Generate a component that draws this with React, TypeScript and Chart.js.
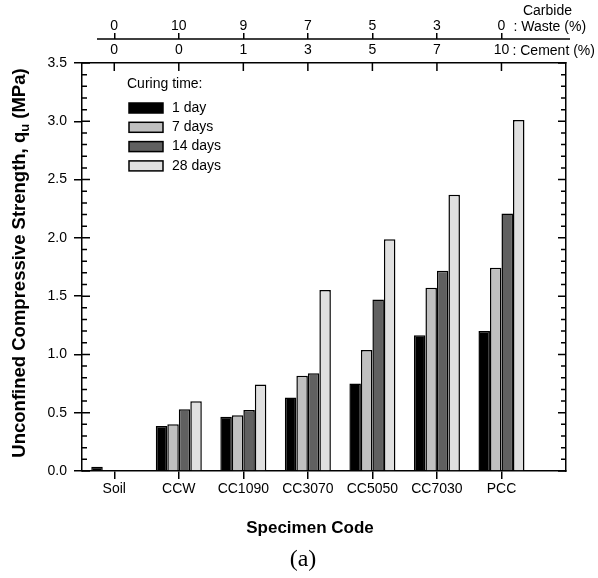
import React, { useEffect, useRef } from 'react';
import { Chart, registerables } from 'chart.js';

Chart.register(...registerables);

// ---------------- data ----------------
const categories = ['Soil', 'CCW', 'CC1090', 'CC3070', 'CC5050', 'CC7030', 'PCC'];
const wasteTicks = ['0', '10', '9', '7', '5', '3', '0'];
const cementTicks = ['0', '0', '1', '3', '5', '7', '10'];
const seriesNames = ['1 day', '7 days', '14 days', '28 days'];
const day1 = [0.037, 0.385, 0.465, 0.63, 0.75, 1.165, 1.2];
const day7 = [null, 0.4, 0.478, 0.818, 1.038, 1.572, 1.744];
const day14 = [null, 0.53, 0.523, 0.838, 1.472, 1.718, 2.21];
const day28 = [null, 0.598, 0.743, 1.552, 1.987, 2.37, 3.01];
const seriesColors = ['#000000', '#c0c0c0', '#606060', '#e0e0e0'];
const yTitleMain = 'Unconfined Compressive Strength, q';
const yTitleSub = 'u';
const yTitleEnd = ' (MPa)';
const xTitle = 'Specimen Code';
const figLabel = '(a)';
const legendTitle = 'Curing time:';
const wasteUnit = ': Waste (%)';
const wasteUnitTop = 'Carbide';
const cementUnit = ': Cement (%)';

const FONT = '"Liberation Sans", Arial, Helvetica, sans-serif';
const SERIF = '"Liberation Serif", "Times New Roman", serif';

const seriesValues = [day1, day7, day14, day28];

const catTicks = (scale: any) => {
  scale.ticks = categories.map((_, i) => ({ value: i }));
};

const decoPlugin = {
  id: 'deco',
  afterDraw(chart: any) {
    const ctx = chart.ctx as CanvasRenderingContext2D;
    const { left, right, top } = chart.chartArea;
    const ys = chart.scales.y;
    const xs = chart.scales.x;
    ctx.save();
    ctx.strokeStyle = '#000';
    ctx.lineWidth = 1.5;
    ctx.beginPath();
    for (let k = 0; k <= 35; k++) {
      const py = ys.getPixelForValue(k / 10);
      const major = k % 5 === 0;
      const len = major ? 8 : 5;
      ctx.moveTo(left, py);
      ctx.lineTo(left + len, py);
      ctx.moveTo(right, py);
      ctx.lineTo(right - len, py);
    }
    categories.forEach((_, i) => {
      const px = xs.getPixelForValue(i);
      ctx.moveTo(px, top);
      ctx.lineTo(px, top + 8);
    });
    const wy = chart.scales.xW.bottom;
    ctx.moveTo(left + 15, wy);
    ctx.lineTo(right + 4, wy);
    ctx.stroke();

    // unit texts at top right
    const lastPx = xs.getPixelForValue(categories.length - 1);
    ctx.fillStyle = '#000';
    ctx.font = `14px ${FONT}`;
    ctx.textBaseline = 'middle';
    ctx.textAlign = 'left';
    ctx.fillText(wasteUnit, lastPx + 12, 27);
    ctx.fillText(cementUnit, lastPx + 11, 51);
    ctx.textAlign = 'center';
    ctx.fillText(wasteUnitTop, lastPx + 46, 11);

    // y title with subscript
    ctx.save();
    ctx.translate(18, 263);
    ctx.rotate(-Math.PI / 2);
    const bold = `bold 18.5px ${FONT}`;
    const subF = `bold 13px ${FONT}`;
    ctx.font = bold;
    const w1 = ctx.measureText(yTitleMain).width;
    const w3 = ctx.measureText(yTitleEnd).width;
    ctx.font = subF;
    const w2 = ctx.measureText(yTitleSub).width;
    let sx = -(w1 + w2 + w3) / 2;
    ctx.textAlign = 'left';
    ctx.textBaseline = 'alphabetic';
    ctx.font = bold;
    ctx.fillText(yTitleMain, sx, 6.5);
    sx += w1;
    ctx.font = subF;
    ctx.fillText(yTitleSub, sx, 10.5);
    sx += w2;
    ctx.font = bold;
    ctx.fillText(yTitleEnd, sx, 6.5);
    ctx.restore();

    // x title and figure label
    ctx.textAlign = 'center';
    ctx.textBaseline = 'middle';
    ctx.font = `bold 17px ${FONT}`;
    ctx.fillText(xTitle, 310, 528);
    ctx.font = `24px ${SERIF}`;
    ctx.fillText(figLabel, 303, 560);

    // legend
    ctx.textAlign = 'left';
    ctx.font = `14px ${FONT}`;
    ctx.fillText(legendTitle, 127, 84);
    chart.data.datasets.forEach((ds: any, i: number) => {
      const cy = 108 + i * 19.3;
      ctx.fillStyle = ds.backgroundColor;
      ctx.fillRect(129, cy - 5, 34, 10);
      ctx.strokeStyle = '#000';
      ctx.lineWidth = 1.5;
      ctx.strokeRect(129, cy - 5, 34, 10);
      ctx.fillStyle = '#000';
      ctx.fillText(ds.label, 172, cy);
    });
    ctx.restore();
  },
};

export default function App() {
  const ref = useRef<HTMLCanvasElement | null>(null);
  useEffect(() => {
    if (!ref.current) return;
    const tickFont = { family: FONT, size: 14 };
    const chart = new Chart(ref.current, {
      type: 'bar',
      data: {
        datasets: seriesNames.map((name, s) => ({
          label: name,
          data: categories.map((_, i) => ({ x: i, y: seriesValues[s][i] })),
          backgroundColor: seriesColors[s],
          borderColor: '#000',
          borderWidth: 1.5,
          categoryPercentage: 0.713,
          barPercentage: 1,
          xAxisID: 'x',
          yAxisID: 'y',
        })),
      } as any,
      options: {
        responsive: false,
        animation: false,
        devicePixelRatio: 1,
        layout: { padding: 0 },
        plugins: { legend: { display: false }, tooltip: { enabled: false }, title: { display: false } },
        scales: {
          x: {
            type: 'linear',
            position: 'bottom',
            offset: false,
            min: -0.5,
            max: 7,
            afterBuildTicks: catTicks,
            afterFit: (s: any) => { s.height = 107; },
            ticks: {
              autoSkip: false,
              maxRotation: 0,
              padding: 2,
              color: '#000',
              font: tickFont,
              callback: (_v: any, i: number) => categories[i],
            },
            grid: { offset: false, drawOnChartArea: false, drawTicks: true, tickLength: 8, color: '#000', lineWidth: 1.5 },
            border: { display: true, color: '#000', width: 1.5 },
          },
          xC: {
            type: 'linear',
            position: 'top',
            offset: false,
            weight: 0,
            min: -0.5,
            max: 7,
            afterBuildTicks: catTicks,
            afterFit: (s: any) => { s.height = 24; },
            ticks: {
              autoSkip: false,
              maxRotation: 0,
              padding: 4,
              color: '#000',
              font: tickFont,
              callback: (_v: any, i: number) => cementTicks[i],
            },
            grid: { offset: false, drawOnChartArea: false, drawTicks: false, color: '#000', lineWidth: 1.5 },
            border: { display: true, color: '#000', width: 1.5 },
          },
          xW: {
            type: 'linear',
            position: 'top',
            offset: false,
            weight: 1,
            min: -0.5,
            max: 7,
            afterBuildTicks: catTicks,
            afterFit: (s: any) => { s.height = 39; },
            ticks: {
              autoSkip: false,
              maxRotation: 0,
              padding: -2,
              color: '#000',
              font: tickFont,
              callback: (_v: any, i: number) => wasteTicks[i],
            },
            grid: { offset: false, drawOnChartArea: false, drawTicks: true, tickLength: 6, color: '#000', lineWidth: 1.5 },
            border: { display: false },
          },
          y: {
            type: 'linear',
            position: 'left',
            min: 0,
            max: 3.5,
            afterFit: (s: any) => { s.width = 82; },
            ticks: {
              stepSize: 0.5,
              padding: 7,
              color: '#000',
              font: tickFont,
              callback: (v: any) => Number(v).toFixed(1),
            },
            grid: { drawOnChartArea: false, drawTicks: true, tickLength: 8, color: '#000', lineWidth: 1.5 },
            border: { display: true, color: '#000', width: 1.5 },
          },
          yR: {
            type: 'linear',
            position: 'right',
            min: 0,
            max: 3.5,
            afterFit: (s: any) => { s.width = 32; },
            ticks: { display: false },
            grid: { drawOnChartArea: false, drawTicks: false },
            border: { display: true, color: '#000', width: 1.5 },
          },
        },
      } as any,
      plugins: [decoPlugin],
    });
    return () => chart.destroy();
  }, []);
  return (
    <div style={{ position: 'absolute', left: 0, top: 0, width: 598, height: 578, background: '#fff' }}>
      <canvas ref={ref} width={598} height={578} style={{ display: 'block' }} />
    </div>
  );
}
